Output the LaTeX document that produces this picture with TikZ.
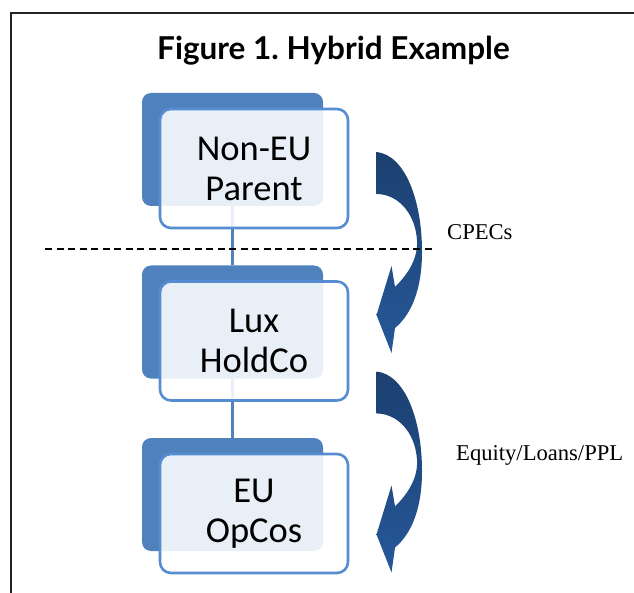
\documentclass[tikz,border=0pt]{standalone}
\usepackage{fontspec}
\newfontfamily\titlefont{Lato}
\newfontfamily\boxfont{Carlito}
\newfontfamily\flowfont{Liberation Serif}
\definecolor{backblue}{RGB}{79,129,189}
\definecolor{edgeblue}{RGB}{86,141,210}
\definecolor{arrowtop}{RGB}{28,64,112}
\definecolor{arrowbot}{RGB}{38,88,152}
\definecolor{framegray}{RGB}{35,35,35}
\frenchspacing

\begin{document}
\begin{tikzpicture}[x=1pt, y=-1pt, every node/.style={inner sep=0pt}]
    \tikzstyle{backbox}=[rectangle, rounded corners=9pt, fill=backblue, minimum width=181pt, minimum height=113pt]
    \tikzstyle{frontbox}=[rectangle, draw=edgeblue, line width=2.6pt, rounded corners=11pt, fill=white, fill opacity=0.88, text opacity=1, minimum width=188pt, minimum height=119pt, align=center, font=\boxfont\fontsize{36.5}{40}\selectfont]
    \tikzstyle{tie}=[draw=backblue, line width=3pt]
    \tikzstyle{cut}=[draw=black, line width=1.4pt, dash pattern=on 7pt off 4.5pt]
    \tikzstyle{flowtext}=[font=\flowfont\fontsize{22.6}{26}\selectfont, anchor=base west]

    \useasboundingbox (0,0) rectangle (634,593);
    \draw[framegray, line width=2.5pt] (634,13) -- (11,13) -- (11,593);

    \node[font=\titlefont\bfseries\fontsize{31.5}{36}\selectfont, anchor=base] (title) at (333.5,60) {Figure 1. Hybrid Example};

    \node[backbox] (parentbg) at (232.5,149.5) {};
    \node[backbox] (luxbg) at (232.5,322) {};
    \node[backbox] (opcobg) at (232.5,494.5) {};

    \draw[tie] (parentbg.south) -- (luxbg.north);
    \draw[tie] (luxbg.south) -- (opcobg.north);

    \node[frontbox] (parent) at (254,168.5) {Non-EU\\Parent};
    \node[frontbox] (lux) at (254,341) {Lux\\HoldCo};
    \node[frontbox] (opco) at (254,513.5) {EU\\OpCos};

    \foreach \dy in {0,219.5} {
        \shade[top color=arrowtop, bottom color=arrowbot, shift={(0,\dy)}]
            (376.5,152) .. controls (405,155) and (422,200) .. (422,252)
            .. controls (422,288) and (412,314) .. (395,328)
            -- (391.5,353) -- (376.5,315) -- (391.5,266) -- (395,287)
            .. controls (410,272) and (418,257) .. (417,240)
            .. controls (415,212) and (397,194) .. (376.5,194) -- cycle;
    }

    \coordinate (cutw) at (45,249);
    \coordinate (cute) at (432,249);
    \draw[cut] (cutw) -- (cute);

    \node[flowtext] (cpecs) at (447,239.5) {CPECs};
    \node[flowtext] (equity) at (456,460) {Equity/Loans/PPL};
\end{tikzpicture}
\end{document}
